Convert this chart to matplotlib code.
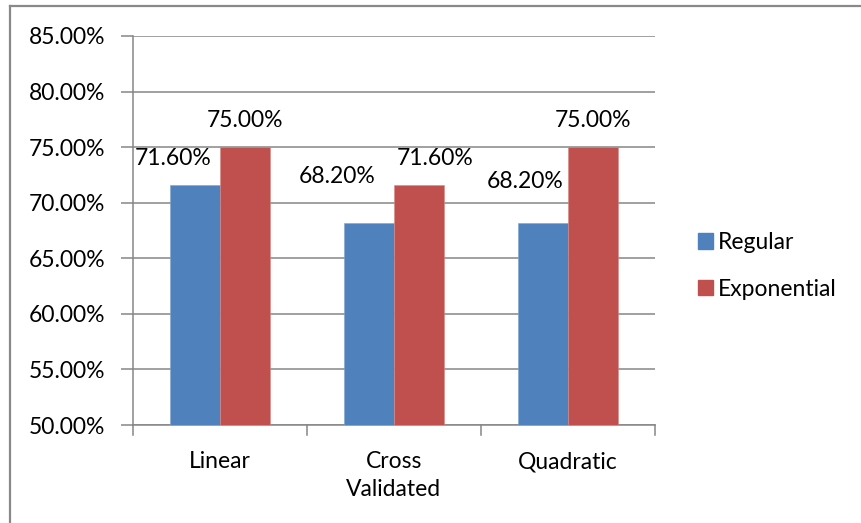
import matplotlib
matplotlib.use("Agg")
import matplotlib.pyplot as plt
import numpy as np
from matplotlib.lines import Line2D

categories = ["Linear", "Cross\nValidated", "Quadratic"]
series_names = ["Regular", "Exponential"]
regular = [71.6, 68.2, 68.2]
exponential = [75.0, 71.6, 75.0]
y_ticks = [50, 55, 60, 65, 70, 75, 80, 85]

plt.rcParams['font.family'] = ['Lato', 'DejaVu Sans']

W, H = 862, 523
fig = plt.figure(figsize=(W / 100, H / 100), dpi=100)
ax = fig.add_axes([133 / W, 1 - 425 / H, (655 - 133) / W, (425 - 36) / H])

blue = "#4F81BD"
red = "#C0504D"
grid_c = "#868686"
fs = 16.5

x = np.arange(len(categories))
bw = 0.285
ax.bar(x - bw / 2, regular, bw, color=blue, edgecolor="#7fa3d0", linewidth=0.4, zorder=3)
ax.bar(x + bw / 2, exponential, bw, color=red, edgecolor="#d98a88", linewidth=0.4, zorder=3)

ax.set_xlim(-0.5, len(categories) - 0.5)
ax.set_ylim(50, 85)
ax.set_yticks(y_ticks)
ax.set_yticklabels([f"{v:.2f}%" for v in y_ticks], fontsize=fs)
ax.yaxis.grid(True, color=grid_c, linewidth=1.1, zorder=0)
ax.set_axisbelow(True)

ax.set_xticks(x)
ax.set_xticklabels(categories, fontsize=fs, linespacing=1.4, va="top")
ax.tick_params(axis="x", length=0, pad=19)
ax.tick_params(axis="y", length=9, color=grid_c, width=1.1, pad=11)
for b in np.arange(-0.5, len(categories), 1.0):
    ax.plot([b, b], [0, -0.025], transform=ax.get_xaxis_transform(), color=grid_c,
            linewidth=1.1, clip_on=False)

for s in ["top", "right"]:
    ax.spines[s].set_visible(False)
for s in ["left", "bottom"]:
    ax.spines[s].set_color(grid_c)
    ax.spines[s].set_linewidth(1.1)

# data labels (offsets in points from bar top-center)
reg_off = [(-16, 19), (-23, 33), (-13, 30)]
exp_off = [(0, 19), (12, 19), (0, 19)]
for i in range(len(categories)):
    ax.annotate(f"{regular[i]:.2f}%", (x[i] - bw / 2, regular[i]), xytext=reg_off[i],
                textcoords="offset points", ha="center", va="center", fontsize=fs)
    ax.annotate(f"{exponential[i]:.2f}%", (x[i] + bw / 2, exponential[i]), xytext=exp_off[i],
                textcoords="offset points", ha="center", va="center", fontsize=fs)

handles = [plt.Rectangle((0, 0), 1, 1, color=blue), plt.Rectangle((0, 0), 1, 1, color=red)]
fig.legend(handles, series_names, loc="center left", bbox_to_anchor=(677 / W, 1 - 266 / H),
           frameon=False, fontsize=fs, handlelength=0.65, handleheight=0.65,
           handletextpad=0.25, labelspacing=1.12)

# outer chart border (top & left visible)
fig.add_artist(Line2D([10 / W, 1], [1 - 6 / H, 1 - 6 / H], transform=fig.transFigure,
                      color="#898989", linewidth=1.6))
fig.add_artist(Line2D([10 / W, 10 / W], [0, 1 - 6 / H], transform=fig.transFigure,
                      color="#898989", linewidth=1.6))

fig.savefig("out.png", dpi=100)
